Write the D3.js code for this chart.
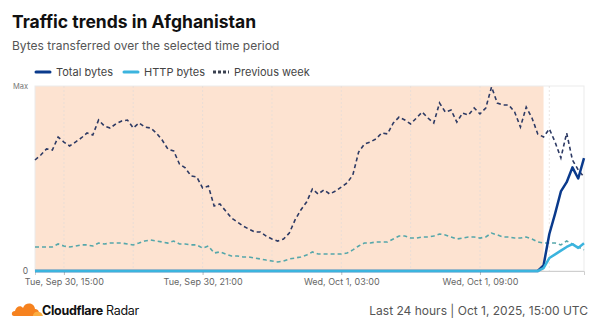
<!DOCTYPE html>
<html><head><meta charset="utf-8">
<script src="https://cdn.jsdelivr.net/npm/d3@7"></script>
<style>
body{margin:0;background:#fff;font-family:Inter,"Noto Sans",sans-serif;}
svg{display:block;}
</style></head>
<body><svg id="c" width="600" height="328"></svg>
<script>
// 15-minute steps from Tue Sep 30 13:45 UTC to Wed Oct 1 13:30 UTC (96 points)
const startTime = Date.UTC(2025, 8, 30, 13, 45);
const stepMinutes = 15;
const tickLabels = ["Tue, Sep 30, 15:00", "Tue, Sep 30, 21:00", "Wed, Oct 1, 03:00", "Wed, Oct 1, 09:00"];
const tickTimes = [Date.UTC(2025,8,30,15), Date.UTC(2025,8,30,21), Date.UTC(2025,9,1,3), Date.UTC(2025,9,1,9)];
const outageEnd = Date.UTC(2025, 9, 1, 11, 45);
const legendLabels = ["Total bytes", "HTTP bytes", "Previous week"];

const prevTotal = [60,62.7,66,65.4,72.4,69.7,67.6,69.7,71.9,74.6,73.5,81.6,78.4,77.3,79.5,81.1,81.6,77.3,80,77.8,
  77.3,74.6,70.8,65.9,64.9,57.8,55.7,51.4,50.8,44.9,45.9,35.1,36.2,32.4,28.6,26.5,24.3,22.7,21.1,21.1,
  18.9,17.3,16.2,17.3,20.5,27.6,33,37.3,44.3,41.6,43.8,41.6,43.2,45.4,47.6,51.9,64.3,68.6,69.7,71.4,
  74.6,74.1,80,83.2,81.6,79.5,82.7,85.9,82.7,80,90.8,85.9,87,80.5,85.4,84.3,88.1,84.9,88.1,99.5,
  90.8,89.7,89.7,85.9,77.8,88.6,82.7,74.1,72.4,76.8,69.7,61.1,74.6,60,54.6,50.8];
const prevHttp = [13,13,13,13,14.6,13.5,13,13.5,14.1,14.1,13.5,15.1,14.6,15.1,15.1,15.1,14.6,14.1,15.1,16.2,
  16.8,16.2,15.7,15.1,16.2,14.6,14.6,14.1,14.1,12.4,13.5,9.7,10.3,9.2,8.1,8.1,7.6,7.6,7,6.5,
  5.9,5.4,4.9,5.4,6.5,7,7.6,8.6,10.3,9.2,9.2,9.2,9.2,9.2,9.7,11.4,13.5,15.1,15.1,15.7,
  15.7,15.7,17.3,18.9,18.9,17.8,17.8,18.4,18.4,18.9,20,19.5,18.4,17.3,17.8,18.4,18.4,17.8,18.4,20.5,
  19.5,18.4,18.4,17.8,17.8,18.4,17.3,15.7,15.1,15.1,15.1,14.1,16.2,14.6,13,11.4];
const totalBytes = [0,0,0,0,0,0,0,0,0,0,0,0,0,0,0,0,0,0,0,0,0,0,0,0,0,0,0,0,0,0,0,0,0,0,0,0,0,0,0,0,
  0,0,0,0,0,0,0,0,0,0,0,0,0,0,0,0,0,0,0,0,0,0,0,0,0,0,0,0,0,0,0,0,0,0,0,0,0,0,0,0,
  0,0,0,0,0,0,0,0,3,20,31,43,48,56,50,61];
const httpBytes = [0,0,0,0,0,0,0,0,0,0,0,0,0,0,0,0,0,0,0,0,0,0,0,0,0,0,0,0,0,0,0,0,0,0,0,0,0,0,0,0,
  0,0,0,0,0,0,0,0,0,0,0,0,0,0,0,0,0,0,0,0,0,0,0,0,0,0,0,0,0,0,0,0,0,0,0,0,0,0,0,0,
  0,0,0,0,0,0,0,0,1.5,7,9,11,13,14.5,12.5,15];

const times = prevTotal.map((_, i) => startTime + i * stepMinutes * 60000);

const svg = d3.select("#c");
const m = {l: 35, r: 584, t: 86, b: 271};
const x = d3.scaleTime().domain([times[0], times[times.length-1]]).range([m.l, m.r]);
const y = d3.scaleLinear().domain([0, 100]).range([m.b, m.t]);

// title
svg.append("text").attr("x", 12).attr("y", 28).text("Traffic trends in Afghanistan")
  .attr("font-size", 17.5).attr("font-weight", 700).attr("fill", "#111");
svg.append("text").attr("x", 12).attr("y", 50).text("Bytes transferred over the selected time period")
  .attr("font-size", 12).attr("fill", "#555");

// legend
const lg = svg.append("g").attr("font-size", 11).attr("fill", "#444");
const legendItems = [
  {x: 35, color: "#0a3a8c", dash: null, w: 3},
  {x: 123, color: "#3bb4de", dash: null, w: 3},
  {x: 213, color: "#3a4150", dash: "3,2", w: 3}
];
legendItems.forEach((d, i) => {
  lg.append("line").attr("x1", d.x + (d.dash ? 0 : 1)).attr("x2", d.x + (d.dash ? 16 : 15)).attr("y1", 72).attr("y2", 72)
    .attr("stroke", d.color).attr("stroke-width", d.w).attr("stroke-linecap", d.dash ? "butt" : "round")
    .attr("stroke-dasharray", d.dash);
  lg.append("text").attr("x", d.x + 21).attr("y", 76).text(legendLabels[i]).attr("fill", "#444");
});

// outage shading
svg.append("rect").attr("x", m.l).attr("y", m.t).attr("width", x(outageEnd) - m.l).attr("height", m.b - m.t)
  .attr("fill", "#fde3d1");

// plot border
svg.append("rect").attr("x", m.l).attr("y", m.t).attr("width", m.r - m.l).attr("height", m.b - m.t)
  .attr("fill", "none").attr("stroke", "#ebebeb").attr("stroke-width", 1);

// grid every 3h
const gridTimes = d3.range(0, 8).map(k => Date.UTC(2025,8,30,15) + k * 3 * 3600000);
svg.append("g").selectAll("line").data(gridTimes).join("line")
  .attr("x1", d => x(d)).attr("x2", d => x(d)).attr("y1", m.t).attr("y2", m.b)
  .attr("stroke", "#e2dcd8").attr("stroke-width", 0.7).attr("stroke-dasharray", "2,2");

// x axis
const xAxis = d3.axisBottom(x).tickValues(tickTimes).tickFormat((d, i) => tickLabels[i]).tickSize(4).tickPadding(4);
const xg = svg.append("g").attr("transform", `translate(0,${m.b})`).call(xAxis);
xg.select(".domain").attr("stroke", "#cfcfcf");
xg.selectAll(".tick line").attr("stroke", "#bbb");
xg.selectAll("text").attr("font-size", 9).attr("fill", "#666").attr("font-family", "Inter,'Noto Sans',sans-serif");

// y labels
svg.append("text").attr("x", 28).attr("y", m.t + 3).attr("text-anchor", "end").text("Max")
  .attr("font-size", 7.5).attr("fill", "#777");
svg.append("text").attr("x", 28).attr("y", m.b + 3).attr("text-anchor", "end").text("0")
  .attr("font-size", 8.5).attr("fill", "#666");

const line = d3.line().x((d, i) => x(times[i])).y(d => y(d));

svg.append("path").attr("d", line(prevHttp)).attr("fill", "none").attr("stroke", "#55a7aa")
  .attr("stroke-width", 1.6).attr("stroke-dasharray", "4,3");
svg.append("path").attr("d", line(prevTotal)).attr("fill", "none").attr("stroke", "#2d3a64")
  .attr("stroke-width", 1.6).attr("stroke-dasharray", "4,3");
svg.append("path").attr("d", line(totalBytes)).attr("fill", "none").attr("stroke", "#0a3a8c")
  .attr("stroke-width", 2.5).attr("stroke-linejoin", "round");
svg.append("path").attr("d", line(httpBytes)).attr("fill", "none").attr("stroke", "#3bb4de")
  .attr("stroke-width", 2.5).attr("stroke-linejoin", "round");

// footer logo (cloud)
const logo = svg.append("g").attr("transform", "translate(11,299)");
logo.append("path").attr("d", "M3,17 C0,17 0,12 4,12 C5,7 10,6 12,9 C14,3 23,3 24,10 C28,10 29,14 27,17 Z").attr("fill", "#f6821f");
logo.append("path").attr("d", "M22,17 C22,13 26,12 28,13 C31,13 32,17 32,17 Z").attr("fill", "#fbad41");
svg.append("text").attr("x", 42).attr("y", 315).attr("font-size", 12.5).attr("letter-spacing", -0.3).attr("fill", "#111")
  .html('<tspan font-weight="700">Cloudflare</tspan> Radar');
svg.append("text").attr("x", 588).attr("y", 315).attr("text-anchor", "end").attr("font-size", 12)
  .attr("fill", "#555").text("Last 24 hours | Oct 1, 2025, 15:00 UTC");
</script>
</body></html>
